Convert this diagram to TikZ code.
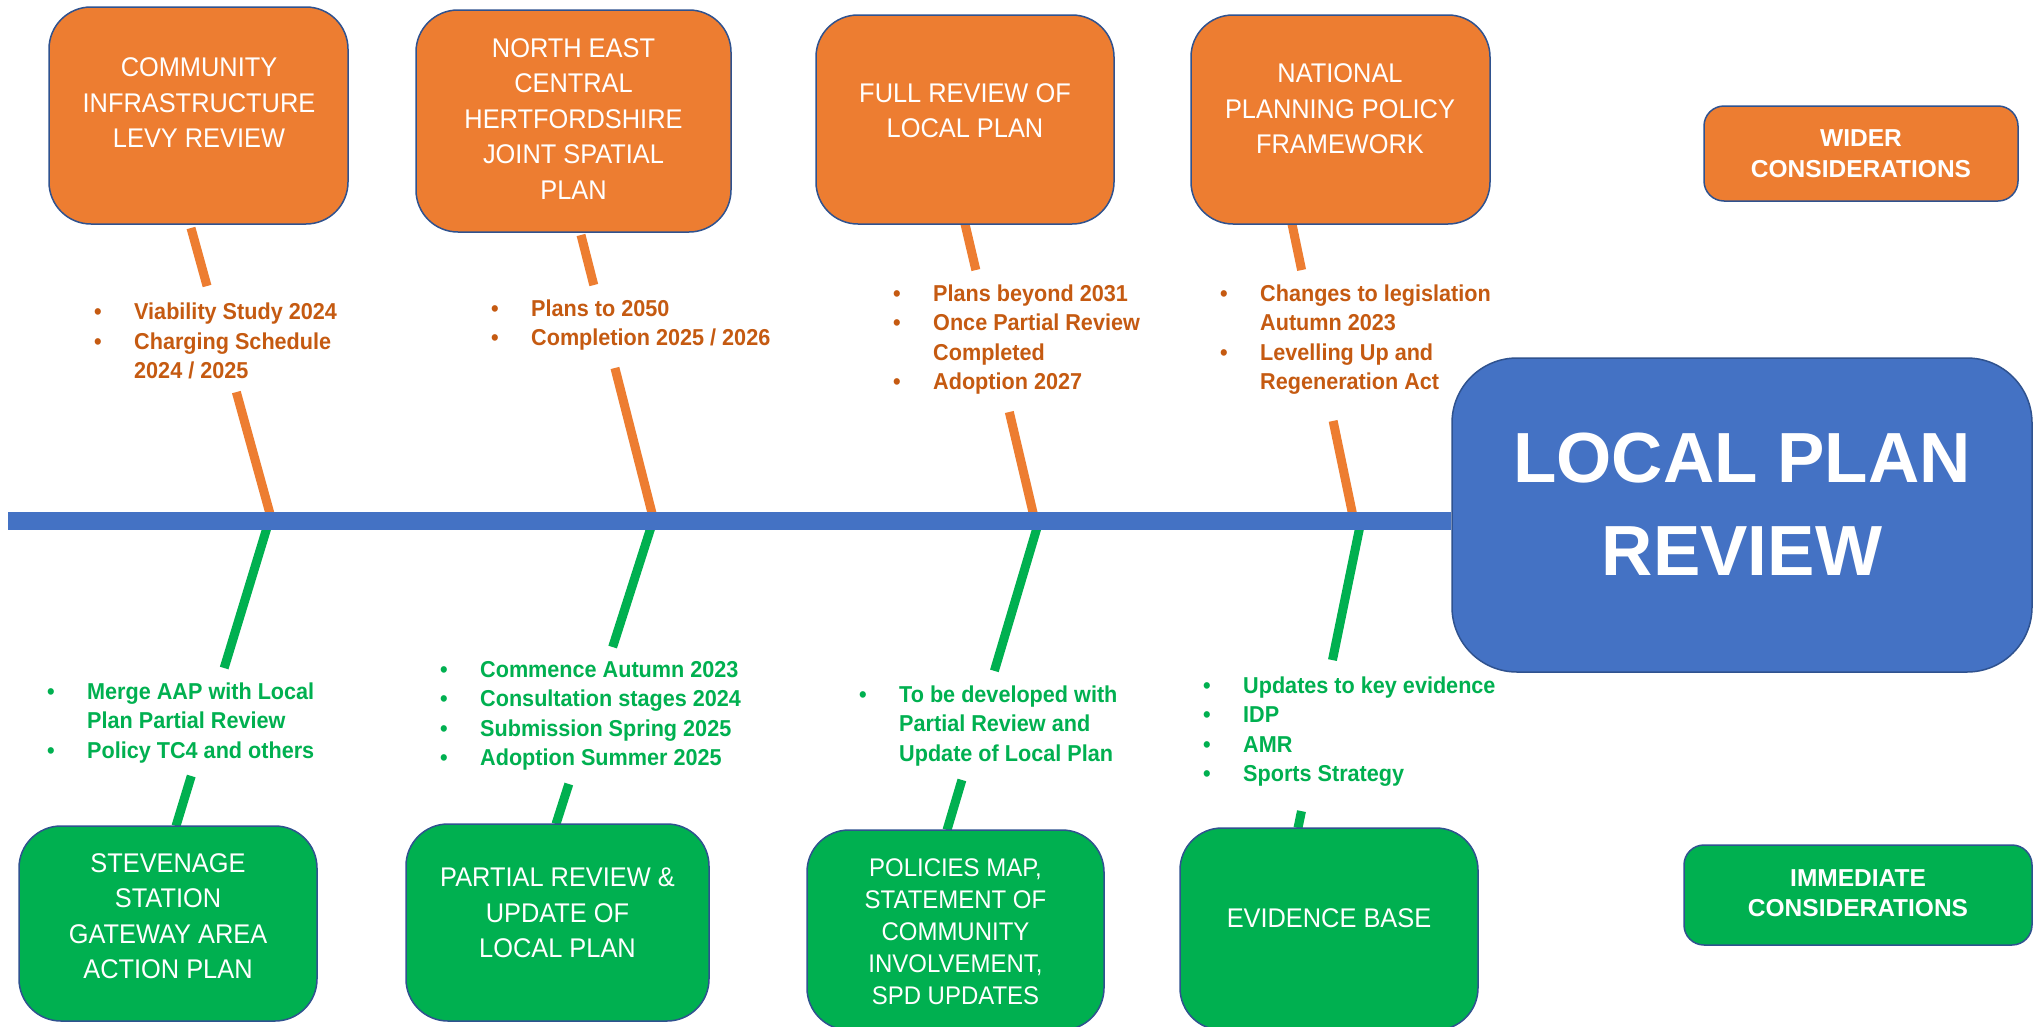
\documentclass[tikz,border=0pt]{standalone}
\usepackage{fontspec}
\setmainfont{Liberation Sans}
\newfontfamily\narrowfont[FakeStretch=0.94]{Liberation Sans}
\usetikzlibrary{calc}
\definecolor{obox}{HTML}{ED7D31}
\definecolor{otext}{HTML}{C55A11}
\definecolor{gbox}{HTML}{00B050}
\definecolor{bbox}{HTML}{4472C4}
\definecolor{edgec}{HTML}{2F528F}
\newcommand{\bitem}[1]{\makebox[40pt][l]{\textbullet}#1}
\newcommand{\bcont}[1]{\hspace*{40pt}#1}
\tikzset{
  obx/.style={draw=edgec, line width=1.5pt, fill=obox, rounded corners=42pt, inner sep=0pt},
  gbx/.style={draw=edgec, line width=1.5pt, fill=gbox, rounded corners=42pt, inner sep=0pt},
  boxtext/.style={text=white, align=center, inner sep=0pt, font=\narrowfont\fontsize{27}{35.5}\selectfont},
  boxtextsm/.style={text=white, align=center, inner sep=0pt, font=\narrowfont\fontsize{25.5}{32}\selectfont},
  keytext/.style={text=white, align=center, inner sep=0pt, font=\bfseries\fontsize{24.5}{30.5}\selectfont},
  otxt/.style={text=otext, align=left, anchor=west, inner sep=0pt, font=\narrowfont\bfseries\fontsize{23}{29.5}\selectfont},
  gtxt/.style={text=gbox, align=left, anchor=west, inner sep=0pt, font=\narrowfont\bfseries\fontsize{23}{29.5}\selectfont},
  obone/.style={draw=obox, line width=9pt},
  gbone/.style={draw=gbox, line width=9pt},
  spine/.style={draw=bbox, line width=18pt},
}
\begin{document}
\begin{tikzpicture}[x=1pt,y=-1pt]
\useasboundingbox (0,0) rectangle (2037,1026);
\fill[white] (0,0) rectangle (2037,1026);
\clip (0,0) rectangle (2037,1026);

% bone coordinates
\coordinate (o1s) at (191,228);  \coordinate (o1e) at (272,521);
\coordinate (o2s) at (581,235);  \coordinate (o2e) at (654,521);
\coordinate (o3s) at (965,224);  \coordinate (o3e) at (1035,521);
\coordinate (o4s) at (1292,224); \coordinate (o4e) at (1354,521);
\coordinate (g1s) at (269,521);  \coordinate (g1e) at (176,826);
\coordinate (g2s) at (653,521);  \coordinate (g2e) at (556,824);
\coordinate (g3s) at (1039,521); \coordinate (g3e) at (947,830);
\coordinate (g4s) at (1361,521); \coordinate (g4e) at (1298,828);

% orange bones (with gaps for the text)
\draw[obone] (o1s) -- ($(o1s)!0.198!(o1e)$);
\draw[obone] ($(o1s)!0.560!(o1e)$) -- (o1e);
\draw[obone] (o2s) -- ($(o2s)!0.175!(o2e)$);
\draw[obone] ($(o2s)!0.465!(o2e)$) -- (o2e);
\draw[obone] (o3s) -- ($(o3s)!0.155!(o3e)$);
\draw[obone] ($(o3s)!0.633!(o3e)$) -- (o3e);
\draw[obone] (o4s) -- ($(o4s)!0.155!(o4e)$);
\draw[obone] ($(o4s)!0.663!(o4e)$) -- (o4e);
% green bones
\draw[gbone] (g1s) -- ($(g1s)!0.482!(g1e)$);
\draw[gbone] ($(g1s)!0.836!(g1e)$) -- (g1e);
\draw[gbone] (g2s) -- ($(g2s)!0.416!(g2e)$);
\draw[gbone] ($(g2s)!0.868!(g2e)$) -- (g2e);
\draw[gbone] (g3s) -- ($(g3s)!0.485!(g3e)$);
\draw[gbone] ($(g3s)!0.838!(g3e)$) -- (g3e);
\draw[gbone] (g4s) -- ($(g4s)!0.453!(g4e)$);
\draw[gbone] ($(g4s)!0.945!(g4e)$) -- (g4e);

% main box and spine
\node[draw=edgec, line width=1.5pt, fill=bbox, rounded corners=65pt, minimum width=580pt, minimum height=314pt, inner sep=0pt] (main) at (1742,515) {};
\coordinate (spl) at (8,521);
\draw[spine] (spl) -- (spl -| main.west);
\node[text=white, align=center, inner sep=0pt, font=\bfseries\fontsize{71}{93}\selectfont] (maint) at (1742,504) {LOCAL PLAN\\REVIEW};

% orange boxes
\node[obx, minimum width=299pt, minimum height=217pt] (b1) at (198.5,115.5) {};
\node[obx, minimum width=315pt, minimum height=222pt] (b2) at (573.5,121) {};
\node[obx, minimum width=298pt, minimum height=209pt] (b3) at (965,119.5) {};
\node[obx, minimum width=299pt, minimum height=209pt] (b4) at (1340.5,119.5) {};
\node[obx, rounded corners=20pt, minimum width=314pt, minimum height=95pt] (wider) at (1861,153.5) {};
\node[boxtext] (b1t) at (199,103) {COMMUNITY\\INFRASTRUCTURE\\LEVY REVIEW};
\node[boxtext] (b2t) at (573.5,119) {NORTH EAST\\CENTRAL\\HERTFORDSHIRE\\JOINT SPATIAL\\PLAN};
\node[boxtext] (b3t) at (965,110.5) {FULL REVIEW OF\\LOCAL PLAN};
\node[boxtext] (b4t) at (1340,109) {NATIONAL\\PLANNING POLICY\\FRAMEWORK};
\node[keytext] (widert) at (1861,153.5) {WIDER\\CONSIDERATIONS};

% green boxes
\node[gbx, minimum width=298pt, minimum height=195pt] (g1) at (168,923.5) {};
\node[gbx, minimum width=303pt, minimum height=197pt] (g2) at (557.5,922.5) {};
\node[gbx, minimum width=297pt, minimum height=200pt] (g3) at (955.5,930) {};
\node[gbx, minimum width=298pt, minimum height=202pt] (g4) at (1329,929) {};
\node[gbx, rounded corners=20pt, minimum width=348pt, minimum height=100pt] (imm) at (1858,895) {};
\node[boxtext] (g1t) at (168,916) {STEVENAGE\\STATION\\GATEWAY AREA\\ACTION PLAN};
\node[boxtext] (g2t) at (557.5,913) {PARTIAL REVIEW \&\\UPDATE OF\\LOCAL PLAN};
\node[boxtextsm] (g3t) at (955.5,932) {POLICIES MAP,\\STATEMENT OF\\COMMUNITY\\INVOLVEMENT,\\SPD UPDATES};
\node[boxtext] (g4t) at (1329,918) {EVIDENCE BASE};
\node[keytext] (immt) at (1858,893) {IMMEDIATE\\CONSIDERATIONS};

% orange bullet texts
\node[otxt] (ot1) at (94,341) {\bitem{Viability Study 2024}\\\bitem{Charging Schedule}\\\bcont{2024 / 2025}};
\node[otxt] (ot2) at (491,325) {\bitem{Plans to 2050}\\\bitem{Completion 2025 / 2026}};
\node[otxt] (ot3) at (893,339.5) {\bitem{Plans beyond 2031}\\\bitem{Once Partial Review}\\\bcont{Completed}\\\bitem{Adoption 2027}};
\node[otxt] (ot4) at (1220,339.5) {\bitem{Changes to legislation}\\\bcont{Autumn 2023}\\\bitem{Levelling Up and}\\\bcont{Regeneration Act}};

% green bullet texts
\node[gtxt] (gt1) at (47,723) {\bitem{Merge AAP with Local}\\\bcont{Plan Partial Review}\\\bitem{Policy TC4 and others}};
\node[gtxt] (gt2) at (440,716) {\bitem{Commence Autumn 2023}\\\bitem{Consultation stages 2024}\\\bitem{Submission Spring 2025}\\\bitem{Adoption Summer 2025}};
\node[gtxt] (gt3) at (859,726) {\bitem{To be developed with}\\\bcont{Partial Review and}\\\bcont{Update of Local Plan}};
\node[gtxt] (gt4) at (1203,731.5) {\bitem{Updates to key evidence}\\\bitem{IDP}\\\bitem{AMR}\\\bitem{Sports Strategy}};
\end{tikzpicture}
\end{document}
